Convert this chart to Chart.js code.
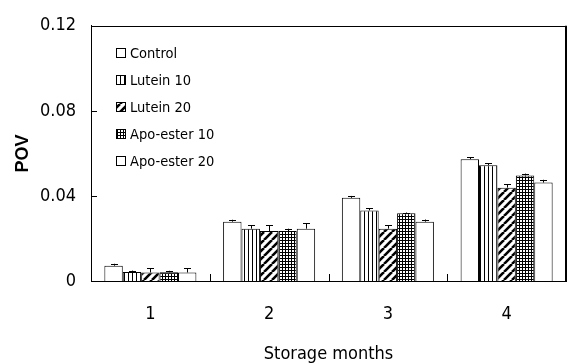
<!DOCTYPE html>
<html>
<head>
<meta charset="utf-8">
<script src="https://cdn.jsdelivr.net/npm/chart.js@4"></script>
<style>
  body { margin: 0; background: #fff; }
</style>
</head>
<body>
<canvas id="povChart" width="568" height="363"></canvas>
<script>
const months = ['1', '2', '3', '4'];
const seriesNames = ['Control', 'Lutein 10', 'Lutein 20', 'Apo-ester 10', 'Apo-ester 20'];
const control = [0.0072, 0.0279, 0.0391, 0.0573];
const lutein10 = [0.0042, 0.0246, 0.0332, 0.0544];
const lutein20 = [0.0040, 0.0235, 0.0246, 0.0439];
const apo10 = [0.0041, 0.0235, 0.0318, 0.0496];
const apo20 = [0.0040, 0.0246, 0.0279, 0.0463];
const controlErr = [0.0009, 0.0009, 0.0009, 0.0009];
const lutein10Err = [0.0007, 0.0015, 0.0009, 0.0009];
const lutein20Err = [0.0020, 0.0027, 0.0016, 0.0015];
const apo10Err = [0.0007, 0.0011, 0.0004, 0.0009];
const apo20Err = [0.0020, 0.0025, 0.0010, 0.0013];
const yTicks = [0, 0.04, 0.08, 0.12];

const FONT = "'DejaVu Sans Condensed', 'DejaVu Sans', sans-serif";

// hatch fills
function makePattern(size, draw) {
  const c = document.createElement('canvas');
  c.width = size; c.height = size;
  const g = c.getContext('2d');
  g.fillStyle = '#fff';
  g.fillRect(0, 0, size, size);
  g.fillStyle = '#000';
  g.strokeStyle = '#000';
  draw(g, size);
  return g.createPattern(c, 'repeat');
}
const ctx = document.getElementById('povChart').getContext('2d');

const plain = '#ffffff';
const vStripes = makePattern(4, (g) => { g.fillRect(0, 0, 1, 4); });
const diagonal = makePattern(8, (g, s) => {
  g.lineWidth = 2.6;
  g.beginPath();
  for (let k = -1; k <= 1; k++) {
    g.moveTo(k * s, s);
    g.lineTo(k * s + s, 0);
  }
  g.stroke();
});
const grid = makePattern(3, (g) => { g.fillRect(0, 0, 3, 1); g.fillRect(0, 0, 1, 3); });

const fills = [plain, vStripes, diagonal, grid, plain];
const values = [control, lutein10, lutein20, apo10, apo20];
const errors = [controlErr, lutein10Err, lutein20Err, apo10Err, apo20Err];

const extras = {
  id: 'extras',
  afterDatasetsDraw(chart) {
    const c = chart.ctx;
    const area = chart.chartArea;
    const x = chart.scales.x;
    const y = chart.scales.y;
    c.save();
    c.strokeStyle = '#000';
    c.lineWidth = 1;

    // error bars
    chart.data.datasets.forEach((ds, i) => {
      const meta = chart.getDatasetMeta(i);
      meta.data.forEach((bar, j) => {
        const top = y.getPixelForValue(ds.data[j] + errors[i][j]);
        c.beginPath();
        c.moveTo(Math.round(bar.x) + 0.5, bar.y);
        c.lineTo(Math.round(bar.x) + 0.5, top);
        c.moveTo(Math.round(bar.x) - 3, Math.round(top) + 0.5);
        c.lineTo(Math.round(bar.x) + 4, Math.round(top) + 0.5);
        c.stroke();
      });
    });

    // frame top and right
    c.beginPath();
    c.moveTo(area.left, Math.round(area.top) + 0.5);
    c.lineTo(area.right, Math.round(area.top) + 0.5);
    c.stroke();
    c.lineWidth = 2;
    c.beginPath();
    c.moveTo(Math.round(area.right), area.top);
    c.lineTo(Math.round(area.right), area.bottom);
    c.stroke();
    c.lineWidth = 1;

    // inward ticks
    c.beginPath();
    yTicks.forEach((v) => {
      const py = Math.round(y.getPixelForValue(v)) + 0.5;
      c.moveTo(area.left, py);
      c.lineTo(area.left + 6, py);
    });
    for (let k = 1; k < months.length; k++) {
      const px = Math.round((x.getPixelForValue(k - 1) + x.getPixelForValue(k)) / 2) + 0.5;
      c.moveTo(px, area.bottom);
      c.lineTo(px, area.bottom - 7);
    }
    c.stroke();

    // legend inside plot
    c.font = '14.5px ' + FONT;
    c.textBaseline = 'middle';
    c.fillStyle = '#000';
    seriesNames.forEach((name, i) => {
      const ly = 53 + i * 27;
      c.fillStyle = fills[i];
      c.fillRect(116, ly - 5, 10, 10);
      c.strokeRect(116.5, ly - 4.5, 9, 9);
      c.fillStyle = '#000';
      c.fillText(name, 130, ly + 1);
    });
    c.restore();
  }
};

new Chart(ctx, {
  type: 'bar',
  data: {
    labels: months,
    datasets: seriesNames.map((name, i) => ({
      label: name,
      data: values[i],
      backgroundColor: fills[i],
      borderColor: '#000',
      borderWidth: 1,
      categoryPercentage: 0.775,
      barPercentage: 1,
    }))
  },
  options: {
    responsive: false,
    animation: false,
    layout: { padding: { top: 15, right: 2, left: 0, bottom: 0 } },
    plugins: {
      legend: { display: false },
      tooltip: { enabled: false },
    },
    scales: {
      x: {
        grid: { display: false, drawTicks: false },
        border: { color: '#000', width: 1 },
        ticks: { color: '#000', padding: 23, font: { family: FONT, size: 18 } },
        title: {
          display: true,
          text: 'Storage months',
          color: '#000',
          padding: 0,
          font: { family: FONT, size: 18, lineHeight: 1 },
        },
        afterFit(scale) { scale.height = 82; },
      },
      y: {
        min: 0,
        max: 0.12,
        afterBuildTicks(scale) { scale.ticks = yTicks.map((v) => ({ value: v })); },
        grid: { display: false, drawTicks: false },
        border: { color: '#000', width: 1 },
        ticks: {
          color: '#000',
          padding: 15,
          font: { family: FONT, size: 18 },
          callback: (v) => (v === 0 ? '0' : v.toFixed(2)),
        },
        title: {
          display: true,
          text: 'POV',
          color: '#000',
          padding: { top: 14, bottom: 0 },
          font: { family: "'Liberation Sans', Arial, sans-serif", size: 18, weight: 'bold', lineHeight: 1 },
        },
        afterFit(scale) { scale.width = 91; },
      }
    }
  },
  plugins: [extras]
});
</script>
</body>
</html>
